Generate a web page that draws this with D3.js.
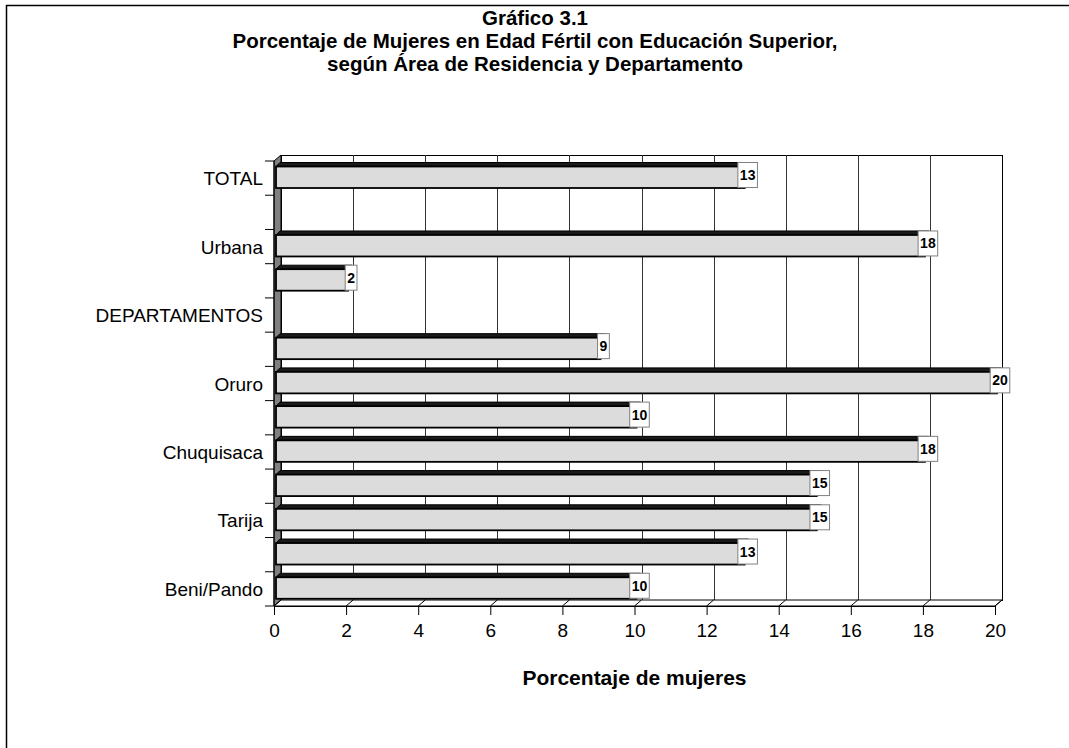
<!DOCTYPE html>
<html>
<head>
<meta charset="utf-8">
<script src="https://cdn.jsdelivr.net/npm/d3@7"></script>
<style>
  html, body { margin: 0; padding: 0; background: #ffffff; }
  svg { display: block; }
  text { font-family: "Liberation Sans", Arial, sans-serif; fill: #000; }
</style>
</head>
<body>
<svg id="chart" width="1069" height="748"></svg>
<script>
// ---- data ----
const titleLines = [
  "Gráfico 3.1",
  "Porcentaje de Mujeres en Edad Fértil con Educación Superior,",
  "según Área de Residencia y Departamento"
];
const categories = ["TOTAL", "", "Urbana", "Rural", "DEPARTAMENTOS", "La Paz", "Oruro",
                    "Potosí", "Chuquisaca", "Cochabamba", "Tarija", "Santa Cruz", "Beni/Pando"];
const values = [13, null, 18, 2, null, 9, 20, 10, 18, 15, 15, 13, 10];
const xTicks = [0, 2, 4, 6, 8, 10, 12, 14, 16, 18, 20];
const xTitle = "Porcentaje de mujeres";

// ---- layout ----
const svg = d3.select("#chart");
const plot = { left: 274, right: 995, top: 161, bottom: 606 };
const DX = 7, DY = 6; // 3D depth offset

const x = d3.scaleLinear().domain([0, 20]).range([plot.left, plot.right]);
const y = d3.scaleBand().domain(d3.range(categories.length)).range([plot.top, plot.bottom]).paddingInner(0).paddingOuter(0);

// outer border
svg.append("rect").attr("x", 6.5).attr("y", 5.5).attr("width", 1100).attr("height", 800)
  .attr("fill", "none").attr("stroke", "#000").attr("stroke-width", 1.5);

// title
svg.append("g").selectAll("text").data(titleLines).join("text")
  .attr("x", 535).attr("y", (d, i) => 24.5 + i * 23)
  .attr("text-anchor", "middle")
  .style("font-size", "20.5px").style("font-weight", "bold")
  .text(d => d);

// back wall
svg.append("rect").attr("x", plot.left + DX + 0.5).attr("y", plot.top - DY + 0.5)
  .attr("width", plot.right - plot.left).attr("height", plot.bottom - plot.top)
  .attr("fill", "#fff").attr("stroke", "#000").attr("stroke-width", 1);

// gridlines on back wall
svg.append("g").selectAll("line").data(xTicks.slice(1, -1)).join("line")
  .attr("x1", d => Math.round(x(d) + DX) + 0.5).attr("x2", d => Math.round(x(d) + DX) + 0.5)
  .attr("y1", plot.top - DY).attr("y2", plot.bottom - DY)
  .attr("stroke", "#333").attr("stroke-width", 1);

// left wall
svg.append("polygon")
  .attr("points", [[plot.left, plot.top], [plot.left + DX, plot.top - DY],
                   [plot.left + DX, plot.bottom - DY], [plot.left, plot.bottom]].join(" "))
  .attr("fill", "#808080").attr("stroke", "#000").attr("stroke-width", 1);

// floor
svg.append("polygon")
  .attr("points", [[plot.left, plot.bottom], [plot.left + DX, plot.bottom - DY],
                   [plot.right + DX, plot.bottom - DY], [plot.right, plot.bottom]].join(" "))
  .attr("fill", "#fff").attr("stroke", "#000").attr("stroke-width", 1);
svg.append("g").selectAll("line").data(xTicks).join("line")
  .attr("x1", d => x(d)).attr("x2", d => x(d) + DX)
  .attr("y1", plot.bottom).attr("y2", plot.bottom - DY)
  .attr("stroke", "#000").attr("stroke-width", 1);

// bars
const barOff = 2, depth = 4;
const bars = svg.append("g");
categories.forEach((c, i) => {
  const v = values[i];
  if (v == null) return;
  const bt = y(i);
  const x0 = x(0) + barOff, x1 = x(v) + barOff;
  const top = bt + 5.5, bot = bt + 27;
  bars.append("polygon")
    .attr("points", [[x0, top], [x0 + depth, top - depth], [x1 + depth, top - depth], [x1, top]].join(" "))
    .attr("fill", "#1a1a1a").attr("stroke", "#000").attr("stroke-width", 1);
  bars.append("polygon")
    .attr("points", [[x1, top], [x1 + depth, top - depth], [x1 + depth, bot - depth], [x1, bot]].join(" "))
    .attr("fill", "#8c8c8c").attr("stroke", "#000").attr("stroke-width", 1);
  bars.append("rect").attr("x", x0).attr("y", top).attr("width", x1 - x0).attr("height", bot - top)
    .attr("fill", "#dcdcdc").attr("stroke", "#000").attr("stroke-width", 1.8);
});

// data labels
const labels = svg.append("g");
categories.forEach((c, i) => {
  const v = values[i];
  if (v == null) return;
  const bt = y(i);
  const cx = x(v) + 5;
  const t = labels.append("text").attr("x", cx).attr("y", bt + 19)
    .attr("text-anchor", "middle")
    .style("font-size", "14px").style("font-weight", "bold")
    .text(String(v));
  const w = t.node().getComputedTextLength() + 4;
  labels.insert("rect", "text").attr("x", cx - w / 2).attr("y", bt + 1.5)
    .attr("width", w).attr("height", 25)
    .attr("fill", "#fff").attr("stroke", "#808080").attr("stroke-width", 1);
});
labels.selectAll("text").raise();

// front category axis
svg.append("line").attr("x1", plot.left).attr("x2", plot.left)
  .attr("y1", plot.top).attr("y2", plot.bottom).attr("stroke", "#000");
const catBounds = d3.range(categories.length + 1).map(i => plot.top + i * y.bandwidth());
svg.append("g").selectAll("line").data(catBounds).join("line")
  .attr("x1", plot.left - 9).attr("x2", plot.left)
  .attr("y1", d => d).attr("y2", d => d)
  .attr("stroke", "#000").attr("stroke-width", 1);
svg.append("g").selectAll("text").data(categories.map((c, i) => ({ c, i })).filter(d => d.i % 2 === 0)).join("text")
  .attr("x", 263).attr("y", d => y(d.i) + y.bandwidth() / 2 + 7)
  .attr("text-anchor", "end")
  .style("font-size", "19px")
  .text(d => d.c);

// front value axis
const xAxis = d3.axisBottom(x).tickValues(xTicks).tickSize(9).tickPadding(9).tickFormat(d3.format("d"));
const gx = svg.append("g").attr("transform", `translate(0,${plot.bottom})`).call(xAxis);
gx.select(".domain").attr("stroke", "#000");
gx.selectAll(".tick line").attr("stroke", "#000");
gx.selectAll(".tick text").style("font-size", "19px").style("font-family", "'Liberation Sans', Arial, sans-serif").attr("fill", "#000");

// x title
svg.append("text").attr("x", x(10)).attr("y", 684.5).attr("text-anchor", "middle")
  .style("font-size", "21px").style("font-weight", "bold").text(xTitle);
</script>
</body>
</html>
